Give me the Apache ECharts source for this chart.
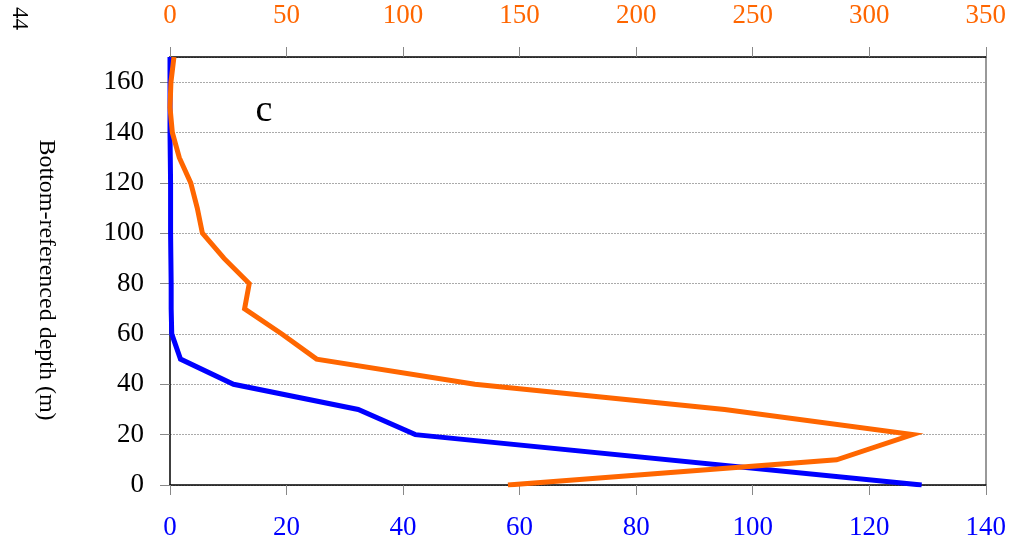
<!DOCTYPE html>
<html>
<head>
<meta charset="utf-8">
<script src="https://cdn.jsdelivr.net/npm/echarts@6/dist/echarts.min.js"></script>
<style>html,body{margin:0;padding:0;background:#fff}#c{width:1009px;height:546px}</style>
</head>
<body>
<div id="c"></div>
<script>
// depth (m)
var blueDepth = [0, 20, 30, 40, 50, 60, 70, 80, 90, 100, 110, 120, 130, 140, 150, 160, 170];
var blueValue = [129, 42.1, 32.3, 10.9, 1.8, 0.3, 0.2, 0.2, 0.15, 0.1, 0.1, 0.1, 0.05, 0, 0, 0, 0];
var orangeDepth = [0, 10, 20, 30, 40, 50, 60, 70, 80, 90, 100, 110, 120, 130, 140, 150, 160, 170];
var orangeValue = [145, 286, 318.6, 238, 130.8, 62.9, 48, 32, 34, 23.2, 13.9, 11.7, 8.9, 4, 1, 0, 0.4, 1.7];
var yTicks = [0, 20, 40, 60, 80, 100, 120, 140, 160];
var bottomTicks = [0, 20, 40, 60, 80, 100, 120, 140];
var topTicks = [0, 50, 100, 150, 200, 250, 300, 350];

var blueData = blueDepth.map(function (d, i) { return [blueValue[i], d]; });
var orangeData = orangeDepth.map(function (d, i) { return [orangeValue[i], d]; });

var serif = '"Liberation Serif", "DejaVu Serif", serif';
var chart = echarts.init(document.getElementById('c'));
chart.setOption({
  animation: false,
  grid: { left: 170, right: 23, top: 57, bottom: 61 },
  xAxis: [{
    type: 'value', position: 'bottom', min: 0, max: 140, interval: 20,
    axisLine: { show: true, onZero: false, lineStyle: { color: '#000', width: 1.5 } },
    axisTick: { show: true, length: 10, lineStyle: { color: '#888' } },
    axisLabel: { color: '#0000FF', fontFamily: serif, fontSize: 27, margin: 29,
      formatter: function (v) { return bottomTicks.indexOf(v) >= 0 ? String(v) : ''; } },
    splitLine: { show: false }
  }, {
    type: 'value', position: 'top', min: 0, max: 350, interval: 50,
    axisLine: { show: true, onZero: false, lineStyle: { color: '#000', width: 1.5 } },
    axisTick: { show: true, length: 10, lineStyle: { color: '#888' } },
    axisLabel: { color: '#FF6600', fontFamily: serif, fontSize: 27, margin: 28,
      formatter: function (v) { return topTicks.indexOf(v) >= 0 ? String(v) : ''; } },
    splitLine: { show: false }
  }],
  yAxis: [{
    type: 'value', position: 'left', min: 0, max: 170, interval: 20,
    axisLine: { show: true, onZero: false, lineStyle: { color: '#000', width: 1.5 } },
    axisTick: { show: true, length: 10, lineStyle: { color: '#888' } },
    axisLabel: { color: '#000', fontFamily: serif, fontSize: 27, margin: 26, showMaxLabel: false,
      formatter: function (v) { return yTicks.indexOf(v) >= 0 ? String(v) : ''; } },
    splitLine: { show: true, lineStyle: { color: '#aaa', type: [2, 1], width: 1 } }
  }, {
    type: 'value', position: 'right', min: 0, max: 170, interval: 20,
    axisLine: { show: true, onZero: false, lineStyle: { color: '#999', width: 2 } },
    axisTick: { show: false }, axisLabel: { show: false }, splitLine: { show: false }
  }],
  series: [{
    type: 'line', xAxisIndex: 0, yAxisIndex: 0, data: blueData,
    showSymbol: false, symbol: 'none',
    lineStyle: { color: '#0000FF', width: 5, join: 'miter' }
  }, {
    type: 'line', xAxisIndex: 1, yAxisIndex: 0, data: orangeData,
    showSymbol: false, symbol: 'none',
    lineStyle: { color: '#FF6600', width: 5, join: 'miter' }
  }],
  graphic: [{
    type: 'text', x: 264, y: 111,
    style: { text: 'c', fill: '#000', font: '38px ' + serif, align: 'center', verticalAlign: 'middle' }
  }, {
    type: 'text', x: 19, y: 7, rotation: -Math.PI / 2,
    style: { text: '44', fill: '#000', font: '23px ' + serif, align: 'left', verticalAlign: 'middle' }
  }, {
    type: 'text', x: 46, y: 280, rotation: -Math.PI / 2,
    style: { text: 'Bottom-referenced depth (m)', fill: '#000', font: '24px ' + serif, align: 'center', verticalAlign: 'middle' }
  }]
});
</script>
</body>
</html>
